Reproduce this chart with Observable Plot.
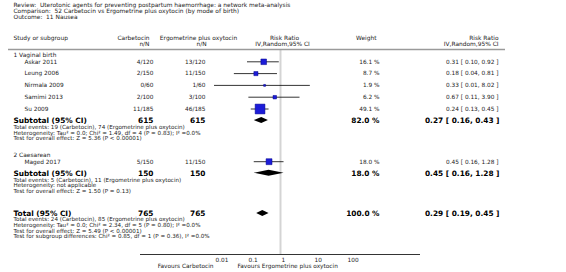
<!DOCTYPE html>
<html><head><meta charset="utf-8">
<script src="https://cdn.jsdelivr.net/npm/d3@7"></script>
<script src="https://cdn.jsdelivr.net/npm/@observablehq/plot@0.6"></script>
<style>body{margin:0;background:#fff}</style>
</head><body><div id="chart"></div>
<script>
// ---------- data ----------
const titleLines = [
  "Review:  Uterotonic agents for preventing postpartum haemorrhage: a network meta-analysis",
  "Comparison:  52 Carbetocin vs Ergometrine plus oxytocin (by mode of birth)",
  "Outcome:  11 Nausea"
];
const subgroupNames = ["1 Vaginal birth", "2 Caesarean"];
const studies = ["Askar 2011", "Leung 2006", "Nirmala 2009", "Samimi 2013", "Su 2009", "Maged 2017"];
const studySubgroup = [0, 0, 0, 0, 0, 1];
const carbEvents = [4, 2, 0, 2, 11, 5];
const carbTotal = [120, 150, 60, 100, 185, 150];
const ergoEvents = [13, 11, 1, 3, 46, 11];
const ergoTotal = [120, 150, 60, 100, 185, 150];
const weights = [16.1, 8.7, 1.9, 6.2, 49.1, 18.0];
const rr = [0.31, 0.18, 0.33, 0.67, 0.24, 0.45];
const rrLo = [0.10, 0.04, 0.01, 0.11, 0.13, 0.16];
const rrHi = [0.92, 0.81, 8.02, 3.90, 0.45, 1.28];

const subCarbTotal = [615, 150];
const subErgoTotal = [615, 150];
const subWeight = [82.0, 18.0];
const subRR = [0.27, 0.45];
const subLo = [0.16, 0.16];
const subHi = [0.43, 1.28];
const subNotes = [
  ["Total events: 19 (Carbetocin), 74 (Ergometrine plus oxytocin)",
   "Heterogeneity: Tau\u00b2 = 0.0; Chi\u00b2 = 1.49, df = 4 (P = 0.83); I\u00b2 =0.0%",
   "Test for overall effect: Z = 5.36 (P < 0.00001)"],
  ["Total events: 5 (Carbetocin), 11 (Ergometrine plus oxytocin)",
   "Heterogeneity: not applicable",
   "Test for overall effect: Z = 1.50 (P = 0.13)"]
];
const totalCarb = 765, totalErgo = 765, totalWeight = 100.0;
const totalRR = 0.29, totalLo = 0.19, totalHi = 0.45;
const totalNotes = [
  "Total events: 24 (Carbetocin), 85 (Ergometrine plus oxytocin)",
  "Heterogeneity: Tau\u00b2 = 0.0; Chi\u00b2 = 2.34, df = 5 (P = 0.80); I\u00b2 =0.0%",
  "Test for overall effect: Z = 5.49 (P < 0.00001)",
  "Test for subgroup differences: Chi\u00b2 = 0.85, df = 1 (P = 0.36), I\u00b2 =0.0%"
];
const tickValues = [0.01, 0.1, 1, 10, 100];
const tickLabels = ["0.01", "0.1", "1", "10", "100"];
const favoursLeft = "Favours Carbetocin";
const favoursRight = "Favours Ergometrine plus oxytocin";

// ---------- layout ----------
const W = 566, H = 272;
const mL = 8, mR = 61;
const xDomain = [0.01, 100], xRange = [214, 346];
const xs = d3.scaleLog().domain(xDomain).range(xRange);
const f2 = v => v.toFixed(2);
const ci = (m, l, h) => `${f2(m)} [ ${f2(l)}, ${f2(h)} ]`;
const NOTE_STEP = 5.6;

const rows = [], summaries = [], notes = [];
let y = 54.5;
subgroupNames.forEach((name, g) => {
  rows.push({kind: "head", y, name});
  y += 6.8;
  studies.forEach((s, i) => {
    if (studySubgroup[i] !== g) return;
    rows.push({kind: "study", y, name: s, c: `${carbEvents[i]}/${carbTotal[i]}`,
      e: `${ergoEvents[i]}/${ergoTotal[i]}`, w: weights[i], wt: `${weights[i].toFixed(1)} %`,
      rr: rr[i], lo: rrLo[i], hi: rrHi[i], ci: ci(rr[i], rrLo[i], rrHi[i])});
    y += 11.8;
  });
  y -= 0.2;
  summaries.push({y, name: "Subtotal (95% CI)", c: String(subCarbTotal[g]), e: String(subErgoTotal[g]),
    wt: `${subWeight[g].toFixed(1)} %`, rr: subRR[g], lo: subLo[g], hi: subHi[g], ci: ci(subRR[g], subLo[g], subHi[g])});
  y += 6.6;
  subNotes[g].forEach(t => { notes.push({y, t}); y += NOTE_STEP; });
  y += 10.9;
});
y += 5.8;
summaries.push({y, name: "Total (95% CI)", c: String(totalCarb), e: String(totalErgo),
  wt: `${totalWeight.toFixed(1)} %`, rr: totalRR, lo: totalLo, hi: totalHi, ci: ci(totalRR, totalLo, totalHi)});
y += 6.3;
totalNotes.forEach(t => { notes.push({y, t}); y += NOTE_STEP; });

const sepY = 49, axisY = 254, tickY = 259.8, favY = 265.8;
const studyRows = rows.filter(r => r.kind === "study");
const headRows = rows.filter(r => r.kind === "head");
const diamondH = 3;
const diamonds = summaries.flatMap((s, k) => [
  {id: k, x: s.lo, y1: s.y, y2: s.y},
  {id: k, x: s.rr, y1: s.y - diamondH, y2: s.y + diamondH},
  {id: k, x: s.hi, y1: s.y, y2: s.y}
]);

const FS = 5.8, NFS = 5.6, BFS = 7.4, TXT = "#222";
const col = (data, px, anchor, text, opts = {}) => Plot.text(data, {
  y: "y", text, frameAnchor: "left", dx: px - mL, textAnchor: anchor,
  fontSize: FS, fill: TXT, ...opts
});
const bold = {fontSize: BFS, fontWeight: "bold", fill: "#000"};

const headers = [
  {y: 38, t: "Study or subgroup", x: 13, a: "start"},
  {y: 38, t: "Carbetocin", x: 149, a: "end"},
  {y: 43.8, t: "n/N", x: 149, a: "end"},
  {y: 38, t: "Ergometrine plus oxytocin", x: 198, a: "middle"},
  {y: 43.8, t: "n/N", x: 201, a: "middle"},
  {y: 38, t: "Risk Ratio", x: 284, a: "middle"},
  {y: 43.8, t: "IV,Random,95% CI", x: 282, a: "middle"},
  {y: 38, t: "Weight", x: 376, a: "end"},
  {y: 38, t: "Risk Ratio", x: 498, a: "end"},
  {y: 43.8, t: "IV,Random,95% CI", x: 498, a: "end"}
];
const titleRows = titleLines.map((t, i) => ({t, y: 5 + i * 5.8}));

const chart = Plot.plot({
  width: W, height: H,
  marginLeft: mL, marginRight: mR, marginTop: 0, marginBottom: 0,
  x: {type: "log", domain: xDomain, range: xRange, axis: null},
  y: {type: "identity", axis: null},
  r: {type: "sqrt", domain: [0, 100], range: [0, 14 / Math.sqrt(Math.PI)]},
  style: {fontFamily: "DejaVu Sans, Verdana, sans-serif", background: "#fff"},
  marks: [
    Plot.ruleX([1], {y1: sepY, y2: axisY, stroke: "#d4d4d4", strokeWidth: 2}),
    Plot.ruleY([sepY], {stroke: "#9a9a9a", strokeWidth: 1.3}),
    Plot.ruleY([axisY], {x1: xs.invert(140), x2: xs.invert(420), stroke: "#000", strokeWidth: 0.8}),
    // titles & headers
    ...headers.map(h => Plot.text([h], {y: "y", text: "t", frameAnchor: "left", dx: h.x - mL,
      textAnchor: h.a, fontSize: 5.9, fill: TXT})),
    col(titleRows, 13, "start", "t", {fontSize: 5.9}),
    // subgroup headings & studies
    col(headRows, 13, "start", "name", {fontSize: 5.9}),
    col(studyRows, 24, "start", "name"),
    col(studyRows, 153, "end", "c"),
    col(studyRows, 205, "end", "e"),
    col(studyRows, 379, "end", "wt"),
    col(studyRows, 498, "end", "ci"),
    // summaries
    col(summaries, 13, "start", "name", bold),
    col(summaries, 153, "end", "c", bold),
    col(summaries, 205, "end", "e", bold),
    col(summaries, 379, "end", "wt", bold),
    col(summaries, 499, "end", "ci", bold),
    col(notes, 13, "start", "t", {fontSize: NFS}),
    // forest
    Plot.ruleY(studyRows, {y: "y", x1: "lo", x2: "hi", stroke: "#000", strokeWidth: 0.8}),
    Plot.dot(studyRows, {x: "rr", y: "y", r: "w", symbol: "square", fill: "#1c1cd8", stroke: "#00008a", strokeWidth: 0.5}),
    Plot.areaY(diamonds, {x: "x", y1: "y1", y2: "y2", z: "id", fill: "#000", curve: "linear"}),
    // axis
    Plot.text(tickValues, {x: d => d, y: () => tickY, text: (d, i) => tickLabels[i], textAnchor: "start",
      dx: 1, fontSize: FS, fill: TXT}),
    Plot.text([favoursLeft], {x: () => 1, y: () => favY, text: d => d, textAnchor: "end", dx: 213 - 280, fontSize: FS, fill: TXT}),
    Plot.text([favoursRight], {x: () => 1, y: () => favY, text: d => d, textAnchor: "start", dx: 237 - 280, fontSize: FS, fill: TXT})
  ]
});
document.getElementById("chart").appendChild(chart);
</script>
</body></html>
